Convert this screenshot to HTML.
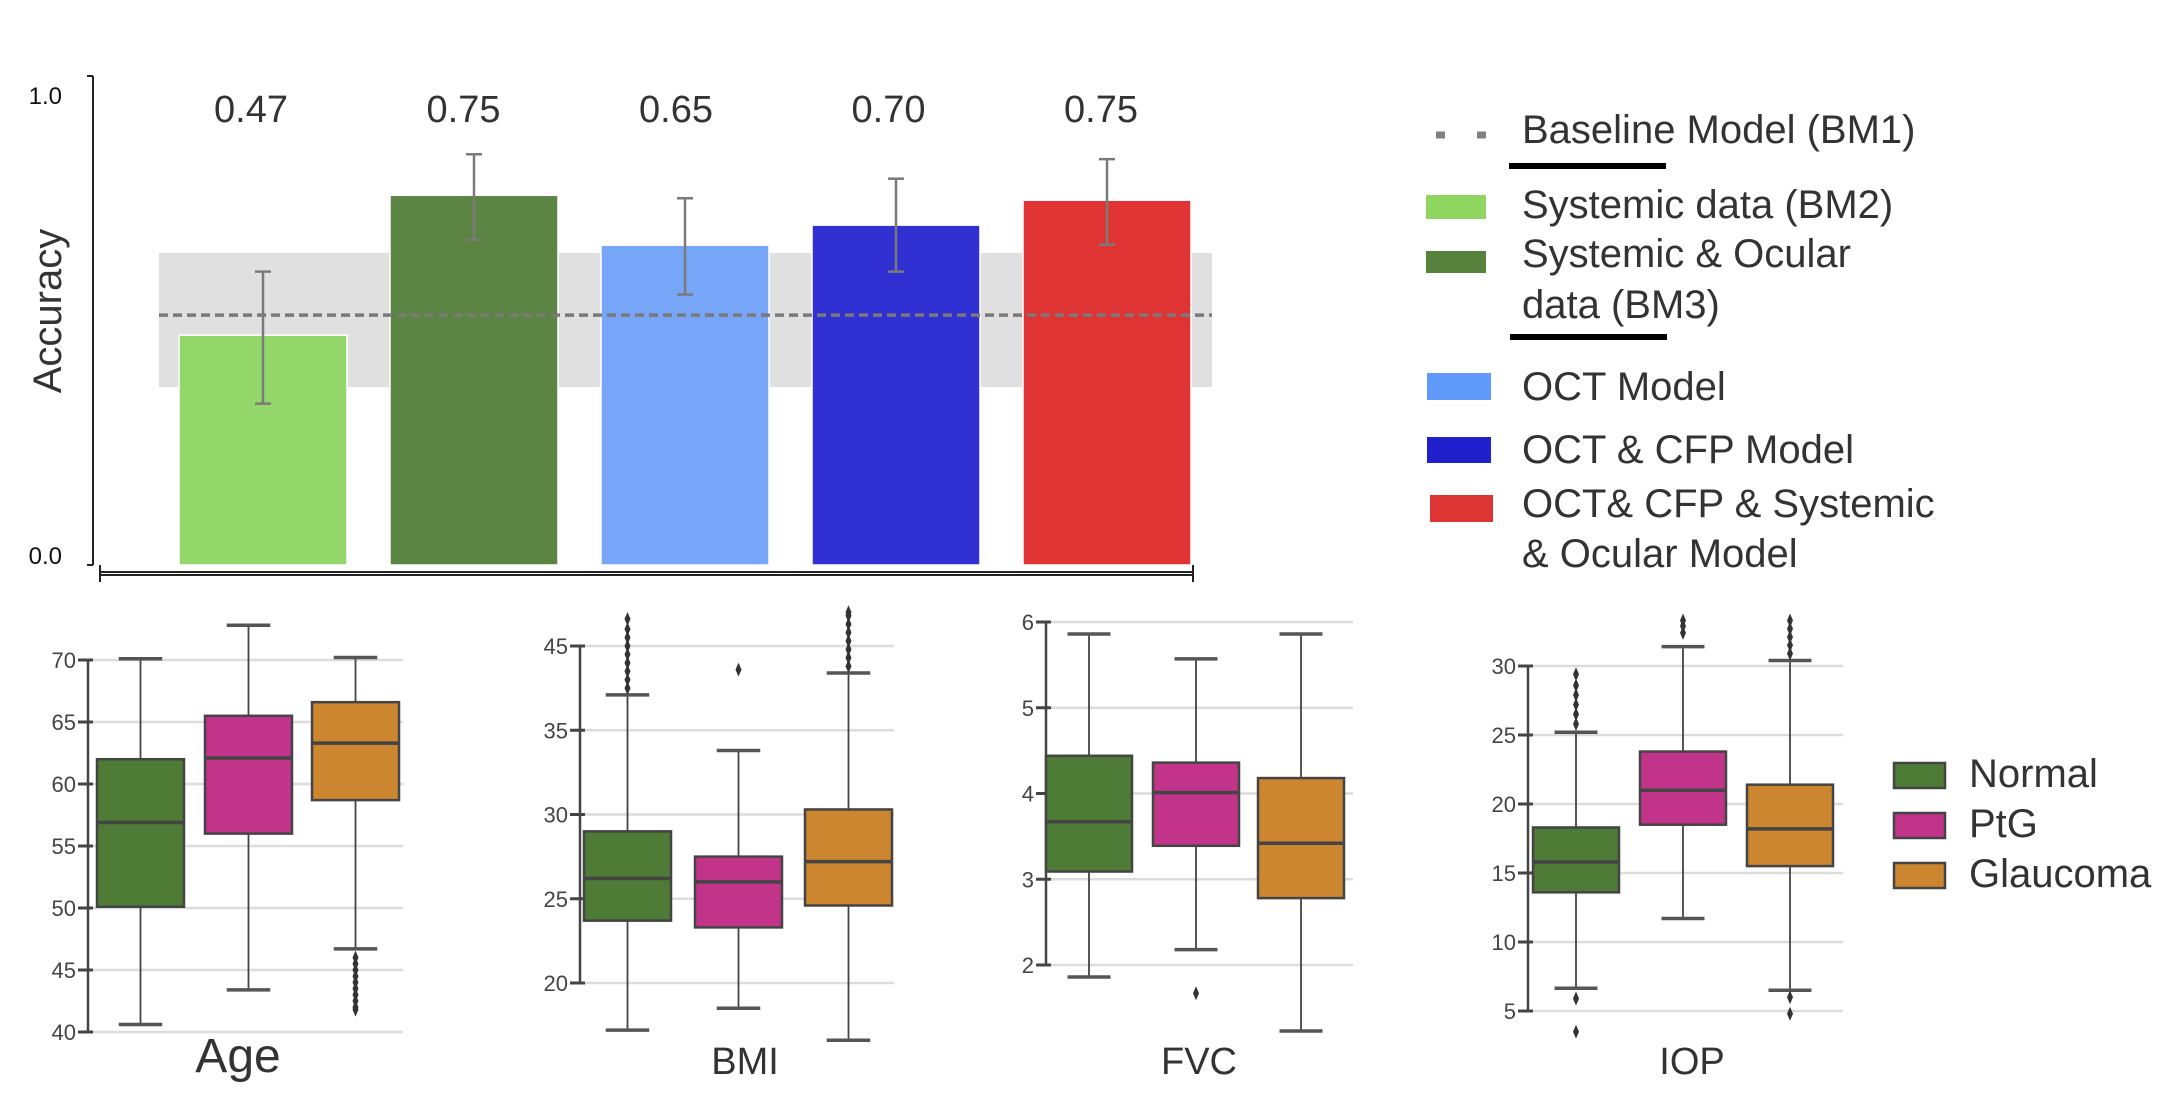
<!DOCTYPE html>
<html><head><meta charset="utf-8"><style>
html,body{margin:0;padding:0;background:#fff;}
svg{display:block;font-family:"Liberation Sans",sans-serif;}
</style></head><body>
<svg id="fig" width="2158" height="1098" viewBox="0 0 2158 1098" xmlns="http://www.w3.org/2000/svg">
<g id="top"></g>
<g id="legendTop">
  <line x1="1436" y1="135" x2="1492" y2="135" stroke="#808080" stroke-width="7" stroke-dasharray="9,32"/>
  <text x="1522" y="143" font-size="40" fill="#333">Baseline Model (BM1)</text>
  <rect x="1509" y="163" width="157" height="6" fill="#000"/>
  <rect x="1426" y="195" width="60" height="24" fill="#8ed660"/>
  <text x="1522" y="218" font-size="40" fill="#333">Systemic data (BM2)</text>
  <rect x="1426" y="251" width="60" height="22" fill="#56823c"/>
  <text x="1522" y="267" font-size="40" fill="#333">Systemic &amp; Ocular</text>
  <text x="1522" y="318" font-size="40" fill="#333">data (BM3)</text>
  <rect x="1510" y="334" width="157" height="6" fill="#000"/>
  <rect x="1427" y="373" width="64" height="27" fill="#5f9afa"/>
  <text x="1522" y="400" font-size="40" fill="#333">OCT Model</text>
  <rect x="1427" y="437" width="64" height="26" fill="#2020cc"/>
  <text x="1522" y="463" font-size="40" fill="#333">OCT &amp; CFP Model</text>
  <rect x="1430" y="495" width="63" height="27" fill="#dd3434"/>
  <text x="1522" y="517" font-size="40" fill="#333">OCT&amp; CFP &amp; Systemic</text>
  <text x="1522" y="567" font-size="40" fill="#333">&amp; Ocular Model</text>
</g>
<g id="boxes"></g>
<g id="legendBot">
  <rect x="1894" y="763" width="51" height="25" fill="#4e7b35" stroke="#444" stroke-width="2.5"/>
  <text x="1969" y="787" font-size="40" fill="#333">Normal</text>
  <rect x="1894" y="813" width="51" height="25" fill="#c2338a" stroke="#444" stroke-width="2.5"/>
  <text x="1969" y="837" font-size="40" fill="#333">PtG</text>
  <rect x="1894" y="863" width="51" height="25" fill="#cb862f" stroke="#444" stroke-width="2.5"/>
  <text x="1969" y="887" font-size="40" fill="#333">Glaucoma</text>
</g>
</svg>
<script>
const NS="http://www.w3.org/2000/svg";
// ---- top chart data ----
const models=["BM2","BM3","OCT","OCT_CFP","Full"];
const accuracy=[0.47,0.756,0.654,0.695,0.746];
const errLow=[0.33,0.665,0.553,0.60,0.655];
const errHigh=[0.60,0.84,0.75,0.79,0.83];
const valueLabels=["0.47","0.75","0.65","0.70","0.75"];
const barColors=["#93d66a","#5c8443","#77a6f9","#3030d3","#e03333"];
const baseline=0.511, baselineLow=0.364, baselineHigh=0.638;
const yTicksTop=[0,1], yTickLabelsTop=["0.0","1.0"];

// ---- boxplot data: [whiskerLow, Q1, median, Q3, whiskerHigh] per group (Normal, PtG, Glaucoma)
const ageStats=[[40.6,50.1,56.9,62,70.1],[43.4,56,62.1,65.5,72.8],[46.7,58.7,63.3,66.6,70.2]];
const ageOut=[[],[],[46,45.5,45,44.5,44,43.5,43,42.5,42,41.8]];
const bmiStats=[[17.2,23.7,26.2,29,37.1],[18.5,23.3,26,27.5,33.8],[16.6,24.6,27.2,30.3,38.4]];
const bmiOut=[[37.5,38,38.5,39,39.5,40,40.5,41,41.6],[38.6],[38.8,39.3,39.8,40.3,40.8,41.3,41.8,42]];
const fvcStats=[[1.86,3.09,3.67,4.44,5.86],[2.18,3.39,4.01,4.36,5.57],[1.23,2.78,3.42,4.18,5.86]];
const fvcOut=[[],[1.67],[]];
const iopStats=[[6.65,13.6,15.8,18.3,25.2],[11.7,18.5,21.0,23.8,31.4],[6.5,15.5,18.2,21.4,30.4]];
const iopOut=[[25.8,26.5,27.2,27.9,28.6,29.4,5.9,3.5],[32.4,32.9,33.3],[30.9,31.5,32.1,32.7,33.3,6.0,4.8]];
const ageTicks=[40,45,50,55,60,65,70];
const ageTickLabels=["40","45","50","55","60","65","70"];
const bmiTicks=[20,25,30,35,40];
const bmiTickLabels=["20","25","30","35","45"];
const fvcTicks=[2,3,4,5,6];
const fvcTickLabels=["2","3","4","5","6"];
const iopTicks=[5,10,15,20,25,30];
const iopTickLabels=["5","10","15","20","25","30"];
const groupColors=["#4e7b35","#c2338a","#cb862f"];

function mk(tag,attrs,parent){const e=document.createElementNS(NS,tag);for(const k in attrs)e.setAttribute(k,attrs[k]);parent.appendChild(e);return e;}

// ---- top chart ----
(function(){
  const g=document.getElementById('top');
  const y0=565,y1=76;
  const Y=v=>y0-(y0-y1)*v;
  const X0=179, step=211, bw=168;
  const band=mk('rect',{x:159,y:Y(baselineHigh),width:1053,height:Y(baselineLow)-Y(baselineHigh),fill:"#e0e0e0"},g);
  
  
  models.forEach((m,i)=>{
    const x=X0+i*step;
    const r=mk('rect',{x:x,y:Y(accuracy[i]),width:bw,height:Y(0)-Y(accuracy[i]),fill:barColors[i],stroke:"#fff","stroke-width":1.5},g);
    
    
  });
  const dl=mk('line',{x1:159,x2:1212,y1:Y(baseline),y2:Y(baseline),stroke:"#7a7a7a","stroke-width":3.5,"stroke-dasharray":"9,5"},g);
  
  
  models.forEach((m,i)=>{
    const cx=X0+i*step+bw/2;
    const eg=mk('g',{stroke:"#7a7a7a","stroke-width":2.5},g);
    
    
    mk('line',{x1:cx,x2:cx,y1:Y(errHigh[i]),y2:Y(errLow[i])},eg);
    mk('line',{x1:cx-8,x2:cx+8,y1:Y(errHigh[i]),y2:Y(errHigh[i])},eg);
    mk('line',{x1:cx-8,x2:cx+8,y1:Y(errLow[i]),y2:Y(errLow[i])},eg);
    const t=mk('text',{x:cx-12+i*1.5,y:122,"font-size":38,fill:"#333","text-anchor":"middle"},g);
    t.textContent=valueLabels[i];
    
    
  });
  const ax=mk('g',{stroke:"#222","stroke-width":2},g);
  
  
  mk('line',{x1:93,x2:93,y1:Y(1),y2:Y(0)},ax);
  yTicksTop.forEach((v,i)=>{
    mk('line',{x1:87,x2:93,y1:Y(v),y2:Y(v)},ax);
    const t=mk('text',{x:62,y:Y(v)+(v===1?28:-1),"font-size":24,fill:"#111",stroke:"none","text-anchor":"end"},g);
    t.textContent=yTickLabelsTop[i];
    
    
  });
  const xa=mk('g',{stroke:"#222","stroke-width":2},g);
  
  
  mk('line',{x1:100,x2:1193,y1:572,y2:572},xa);
  mk('line',{x1:100,x2:1193,y1:575,y2:575},xa);
  mk('line',{x1:100,x2:100,y1:565,y2:582},xa);
  mk('line',{x1:1193,x2:1193,y1:565,y2:582},xa);
  const yl=mk('text',{x:0,y:0,"font-size":40,fill:"#333","text-anchor":"middle",transform:"translate(61,311) rotate(-90)"},g);
  yl.textContent="Accuracy";
  
  
})();

// ---- boxplots ----
function panel(name,stats,outs,ticks,tickLabels,cfg){
  const root=document.getElementById('boxes');
  const g=mk('g',{},root);
  
  
  const Y=v=>cfg.yA+(v-cfg.vA)*(cfg.yB-cfg.yA)/(cfg.vB-cfg.vA);
  ticks.forEach((v,i)=>{
    const gl=mk('line',{x1:cfg.ax,x2:cfg.gridEnd,y1:Y(v),y2:Y(v),stroke:"#dcdcdc","stroke-width":2.5},g);
    
    
  });
  mk('line',{x1:cfg.ax,x2:cfg.ax,y1:Y(ticks[ticks.length-1]),y2:Y(ticks[0]),stroke:"#444","stroke-width":2.5},g);
  ticks.forEach((v,i)=>{
    mk('line',{x1:cfg.ax-10,x2:cfg.ax+5,y1:Y(v),y2:Y(v),stroke:"#444","stroke-width":3},g);
    const t=mk('text',{x:cfg.ax-12,y:Y(v)+8,"font-size":22,fill:"#444","text-anchor":"end"},g);
    t.textContent=tickLabels[i];
    
    
  });
  stats.forEach((s,i)=>{
    const x=cfg.bx[i], w=cfg.bw, cx=x+w/2;
    const bg=mk('g',{stroke:"#444"},g);
    
    
    mk('line',{x1:cx,x2:cx,y1:Y(s[4]),y2:Y(s[3]),"stroke-width":1.8},bg);
    mk('line',{x1:cx,x2:cx,y1:Y(s[1]),y2:Y(s[0]),"stroke-width":1.8},bg);
    mk('line',{x1:cx-w/4,x2:cx+w/4,y1:Y(s[4]),y2:Y(s[4]),"stroke-width":3.5,stroke:"#555"},bg);
    mk('line',{x1:cx-w/4,x2:cx+w/4,y1:Y(s[0]),y2:Y(s[0]),"stroke-width":3.5,stroke:"#555"},bg);
    mk('rect',{x:x,y:Y(s[3]),width:w,height:Y(s[1])-Y(s[3]),fill:groupColors[i],"stroke-width":2.5},bg);
    mk('line',{x1:x,x2:x+w,y1:Y(s[2]),y2:Y(s[2]),"stroke-width":3.5},bg);
    outs[i].forEach(v=>{
      const yy=Y(v);
      mk('path',{d:`M${cx} ${yy-7}L${cx+3} ${yy}L${cx} ${yy+7}L${cx-3} ${yy}Z`,fill:"#333",stroke:"none"},bg);
    });
  });
  const t=mk('text',{x:cfg.lx,y:cfg.ly,"font-size":cfg.lfs,fill:"#333","text-anchor":"middle"},g);
  t.textContent=name;
  
  
}
panel("Age",ageStats,ageOut,ageTicks,ageTickLabels,{ax:88,gridEnd:403,yA:1032,vA:40,yB:660,vB:70,bx:[97,205,312],bw:87,lx:238,ly:1072,lfs:48});
panel("BMI",bmiStats,bmiOut,bmiTicks,bmiTickLabels,{ax:580,gridEnd:894,yA:983,vA:20,yB:646,vB:40,bx:[584,695,805],bw:87,lx:745,ly:1074,lfs:38});
panel("FVC",fvcStats,fvcOut,fvcTicks,fvcTickLabels,{ax:1046,gridEnd:1353,yA:965,vA:2,yB:622,vB:6,bx:[1046,1153,1258],bw:86,lx:1199,ly:1074,lfs:38});
panel("IOP",iopStats,iopOut,iopTicks,iopTickLabels,{ax:1528,gridEnd:1843,yA:1011,vA:5,yB:666,vB:30,bx:[1533,1640,1747],bw:86,lx:1692,ly:1074,lfs:38});
</script>
</body></html>
